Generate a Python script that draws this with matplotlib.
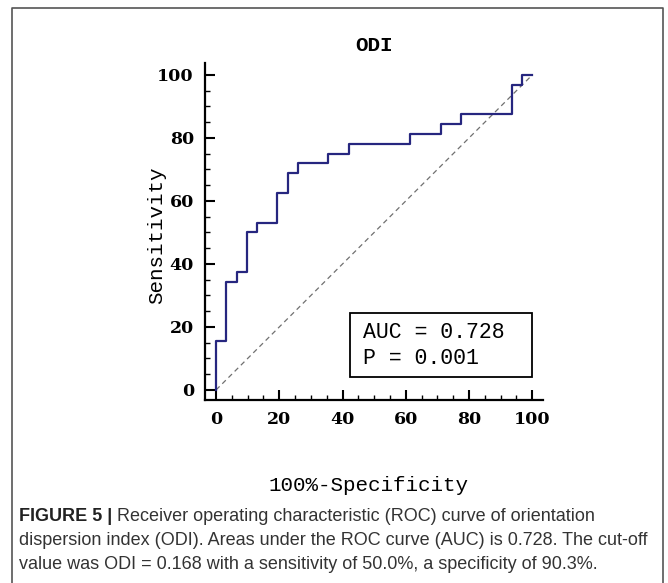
import matplotlib
matplotlib.use("Agg")
import matplotlib.pyplot as plt
from matplotlib.patches import Rectangle
from matplotlib.ticker import MultipleLocator

# ROC curve corners (100%-specificity, sensitivity)
fpr = [0, 0, 3.2, 6.5, 9.7, 12.9, 19.4, 22.6, 25.8, 35.5, 41.9, 61.3, 71.0, 77.4, 93.5, 96.8, 100]
tpr = [0, 15.6, 34.4, 37.5, 50.0, 53.1, 62.5, 68.8, 71.9, 75.0, 78.1, 81.3, 84.4, 87.5, 96.9, 100, 100]
diag = [0, 100]

title = "ODI"
auc_text = "AUC = 0.728"
p_text = "P = 0.001"
xlabel = "100%-Specificity"
ylabel = "Sensitivity"
ticks = [0, 20, 40, 60, 80, 100]

cap_bold = "FIGURE 5 |"
cap_lines = [" Receiver operating characteristic (ROC) curve of orientation",
             "dispersion index (ODI). Areas under the ROC curve (AUC) is 0.728. The cut-off",
             "value was ODI = 0.168 with a sensitivity of 50.0%, a specificity of 90.3%."]

mono = "Liberation Mono"
W, H = 668, 583

fig = plt.figure(figsize=(W / 100, H / 100), dpi=100)
ax = fig.add_axes([205 / W, 1 - 400 / H, 338 / W, 337 / H])

ax.plot(fpr, tpr, drawstyle="steps-post", color="#26267f", lw=1.6, zorder=3)
ax.plot(diag, diag, color="#707070", lw=0.9, linestyle=(0, (4, 3)), zorder=2)

ax.set_xlim(-3.5, 103.4)
ax.set_ylim(-3.2, 103.8)
ax.set_xticks(ticks)
ax.set_yticks(ticks)
ax.xaxis.set_minor_locator(MultipleLocator(5))
ax.yaxis.set_minor_locator(MultipleLocator(5))
for s in ["top", "right"]:
	ax.spines[s].set_visible(False)
for s in ["left", "bottom"]:
	ax.spines[s].set_linewidth(1.6)
ax.tick_params(which="major", direction="in", length=7, width=1.5, pad=8)
ax.tick_params(which="minor", direction="in", length=3.5, width=1.0)
for lab in ax.get_xticklabels() + ax.get_yticklabels():
	lab.set_fontfamily("DejaVu Serif")
	lab.set_fontweight("bold")
	lab.set_fontsize(12.5)

ax.text(0.5, 1.053, title, transform=ax.transAxes, ha="center", va="center",
		fontfamily=mono, fontweight="bold", fontsize=15)
ax.text(0.485, -0.255, xlabel, transform=ax.transAxes, ha="center", va="center",
		fontfamily=mono, fontsize=15)
ax.text(-0.142, 0.49, ylabel, transform=ax.transAxes, ha="center", va="center",
		rotation=90, fontfamily=mono, fontsize=15)

# AUC box
ax.add_patch(Rectangle((0.429, 0.069), 0.538, 0.188, transform=ax.transAxes,
					   fill=False, edgecolor="black", lw=1.3, zorder=4))
ax.text(0.467, 0.199, auc_text, transform=ax.transAxes, va="center",
		fontfamily=mono, fontsize=15.5)
ax.text(0.467, 0.122, p_text, transform=ax.transAxes, va="center",
		fontfamily=mono, fontsize=15.5)

# outer frame (open at bottom)
fig.add_artist(plt.Line2D([12 / W, 12 / W, 663 / W, 663 / W], [0, 1 - 8 / H, 1 - 8 / H, 0],
						  transform=fig.transFigure, color="#555555", lw=1.2))

# caption
cap_x = 19 / W
ys = [1 - 521 / H, 1 - 545 / H, 1 - 569 / H]
t = fig.text(cap_x, ys[0], cap_bold, fontfamily="Liberation Sans", fontweight="bold",
			 fontsize=13, color="#222222", va="baseline")
fig.canvas.draw()
bb = t.get_window_extent().transformed(fig.transFigure.inverted())
fig.text(bb.x1, ys[0], cap_lines[0], fontfamily="Liberation Sans", fontsize=13,
		 color="#333333", va="baseline")
for line, y in zip(cap_lines[1:], ys[1:]):
	fig.text(cap_x, y, line, fontfamily="Liberation Sans", fontsize=13,
			 color="#333333", va="baseline")

fig.savefig("out.png", dpi=100)
